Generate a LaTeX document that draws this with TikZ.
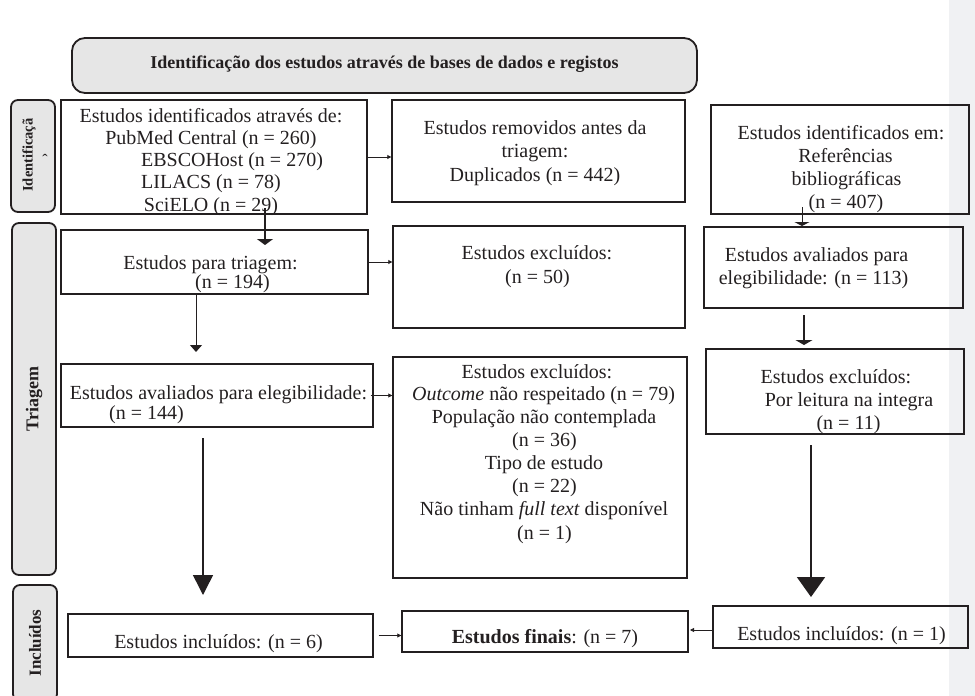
\documentclass[tikz,border=0pt]{standalone}
\usepackage{fontspec}
\setmainfont{Liberation Serif}
\usetikzlibrary{arrows.meta}
\definecolor{bandgray}{RGB}{240,241,243}
\definecolor{lblgray}{RGB}{230,230,230}
\definecolor{ink}{RGB}{35,31,32}
\begin{document}
\begin{tikzpicture}[x=1pt,y=-1pt,
  box/.style={draw=ink, line width=1.4pt, inner sep=0pt},
  lbl/.style={draw=ink, line width=1.8pt, rounded corners=7pt, fill=lblgray, inner sep=0pt},
  txt/.style={anchor=base, inner sep=0pt, font=\fontsize{20}{22}\selectfont, text=ink},
  sidetxt/.style={rotate=90, inner sep=0pt, text=ink},
  harr/.style={draw=ink, line width=0.8pt, -{Triangle[width=4pt,length=4pt]}},
  varr/.style={draw=ink, line width=1.1pt}
]
\useasboundingbox (0,0) rectangle (975,696);
\fill[bandgray] (949,0) rectangle (975,696);

% header
\node[lbl, rounded corners=13pt, minimum width=625pt, minimum height=55pt] (hdr) at (384.5,65.5) {};
\node[anchor=base, inner sep=0pt, text=ink, font=\fontsize{18}{20}\selectfont\bfseries] (thdr) at (384.5,68) {Identificação dos estudos através de bases de dados e registos};

% side labels
\node[lbl, minimum width=44pt, minimum height=112pt] (lid) at (33,156) {};
\node[sidetxt, font=\fontsize{14.5}{16}\selectfont\bfseries] (tlid) at (29,155) {Identificaçã};
\node[inner sep=0pt, text=ink, font=\fontsize{16}{18}\selectfont] (tlid2) at (45,160) {ˆ};
\node[lbl, minimum width=44pt, minimum height=352pt] (ltr) at (34,399) {};
\node[sidetxt, font=\fontsize{18}{20}\selectfont\bfseries] (tltr) at (34,399) {Triagem};
\node[lbl, minimum width=44pt, minimum height=116pt] (lin) at (35,643) {};
\node[sidetxt, font=\fontsize{17}{19}\selectfont\bfseries] (tlin) at (35,643) {Incluídos};

% boxes
\node[box, minimum width=306pt, minimum height=114pt] (b1) at (214,157) {};
\node[box, minimum width=293pt, minimum height=102pt] (rem) at (538.5,151) {};
\node[box, minimum width=258pt, minimum height=109pt] (ref) at (840,159.5) {};
\node[box, minimum width=307pt, minimum height=64pt] (triag) at (214.5,262) {};
\node[box, minimum width=292pt, minimum height=102pt] (ex50) at (539,277) {};
\node[box, minimum width=259pt, minimum height=81pt] (el113) at (833.5,267.5) {};
\node[box, minimum width=312pt, minimum height=63pt] (aval) at (217,395.5) {};
\node[box, minimum width=294pt, minimum height=221pt] (exc) at (540,467.5) {};
\node[box, minimum width=258pt, minimum height=85pt] (leit) at (835,391.5) {};
\node[box, minimum width=305pt, minimum height=43pt] (n6) at (220.5,635.5) {};
\node[box, minimum width=286pt, minimum height=41pt] (fin) at (545,631.5) {};
\node[box, minimum width=255pt, minimum height=42pt] (n1) at (840.5,627) {};

% texts box1
\node[txt] (t1a) at (211,122) {Estudos identificados através de:};
\node[txt] (t1b) at (211,144) {PubMed Central (n = 260)};
\node[txt] (t1c) at (232,166.5) {EBSCOHost (n = 270)};
\node[txt] (t1d) at (211,188.5) {LILACS (n = 78)};
\node[txt] (t1e) at (211,211) {SciELO (n = 29)};
% removidos
\node[txt] (t2a) at (535,134) {Estudos removidos antes da};
\node[txt] (t2b) at (535,157.5) {triagem:};
\node[txt] (t2c) at (535,181) {Duplicados (n = 442)};
% referencias
\node[txt] (t3a) at (841,139) {Estudos identificados em:};
\node[txt] (t3b) at (845.5,162.5) {Referências};
\node[txt] (t3c) at (846.5,185) {bibliográficas};
\node[txt] (t3d) at (846,208.5) {(n = 407)};
% triagem
\node[txt] (t4a) at (210.5,269) {Estudos para triagem:};
\node[txt] (t4b) at (232.5,288) {(n = 194)};
% ex50
\node[txt] (t5a) at (537,259) {Estudos excluídos:};
\node[txt] (t5b) at (537.5,283) {(n = 50)};
% el113
\node[txt] (t6a) at (816.5,261) {Estudos avaliados para};
\node[txt] (t6b) at (813.5,284) {elegibilidade: (n = 113)};
% aval
\node[txt] (t7a) at (218.5,399) {Estudos avaliados para elegibilidade:};
\node[txt] (t7b) at (146.5,419) {(n = 144)};
% exc
\node[txt] (t8a) at (537,378) {Estudos excluídos:};
\node[txt] (t8b) at (543.5,400) {\textit{Outcome} não respeitado (n = 79)};
\node[txt] (t8c) at (544,423) {População não contemplada};
\node[txt] (t8d) at (544.5,446) {(n = 36)};
\node[txt] (t8e) at (544,469) {Tipo de estudo};
\node[txt] (t8f) at (544.5,492) {(n = 22)};
\node[txt] (t8g) at (544,515) {Não tinham \textit{full text} disponível};
\node[txt] (t8h) at (544.5,539) {(n = 1)};
% leitura
\node[txt] (t9a) at (836,383) {Estudos excluídos:};
\node[txt] (t9b) at (849,406) {Por leitura na integra};
\node[txt] (t9c) at (848.5,429) {(n = 11)};
% bottom row
\node[txt] (t10) at (218.5,648) {Estudos incluídos: (n = 6)};
\node[txt] (t11) at (545,643) {\textbf{Estudos finais}: (n = 7)};
\node[txt] (t12) at (841.5,640) {Estudos incluídos: (n = 1)};

% horizontal arrows
\draw[harr] (b1.east) -- (b1.east -| rem.west);
\draw[harr] (triag.east) -- (triag.east -| ex50.west);
\draw[harr] ([xshift=-3pt]aval.east) -- (aval.east -| exc.west);
\draw[harr, shorten <=5pt] (n6.east) -- (n6.east -| fin.west);
\coordinate (n1l) at (713,630);
\coordinate (finr) at (690,630);
\draw[harr] (n1l) -- (finr);

% vertical arrows
\coordinate (a1s) at (265,208); \coordinate (a1e) at (265,245);
\draw[varr, -{Triangle[width=16pt,length=6pt]}] (a1s) -- (a1e);
\coordinate (a2s) at (196,294); \coordinate (a2e) at (196,352);
\draw[varr, line width=1pt, -{Triangle[width=12pt,length=7pt]}] (a2s) -- (a2e);
\coordinate (a3s) at (203,438); \coordinate (a3e) at (203,595);
\draw[varr, line width=1.5pt, -{Triangle[width=20pt,length=20pt]}] (a3s) -- (a3e);
\coordinate (a4s) at (802,207); \coordinate (a4e) at (802,226);
\draw[varr, line width=1pt, -{Triangle[width=15pt,length=4pt]}] (a4s) -- (a4e);
\coordinate (a5s) at (804,315); \coordinate (a5e) at (804,345);
\draw[varr, -{Triangle[width=17pt,length=5pt]}] (a5s) -- (a5e);
\coordinate (a6s) at (811,445); \coordinate (a6e) at (811,597);
\draw[varr, line width=2pt, -{Triangle[width=28pt,length=20pt]}] (a6s) -- (a6e);
\end{tikzpicture}
\end{document}
